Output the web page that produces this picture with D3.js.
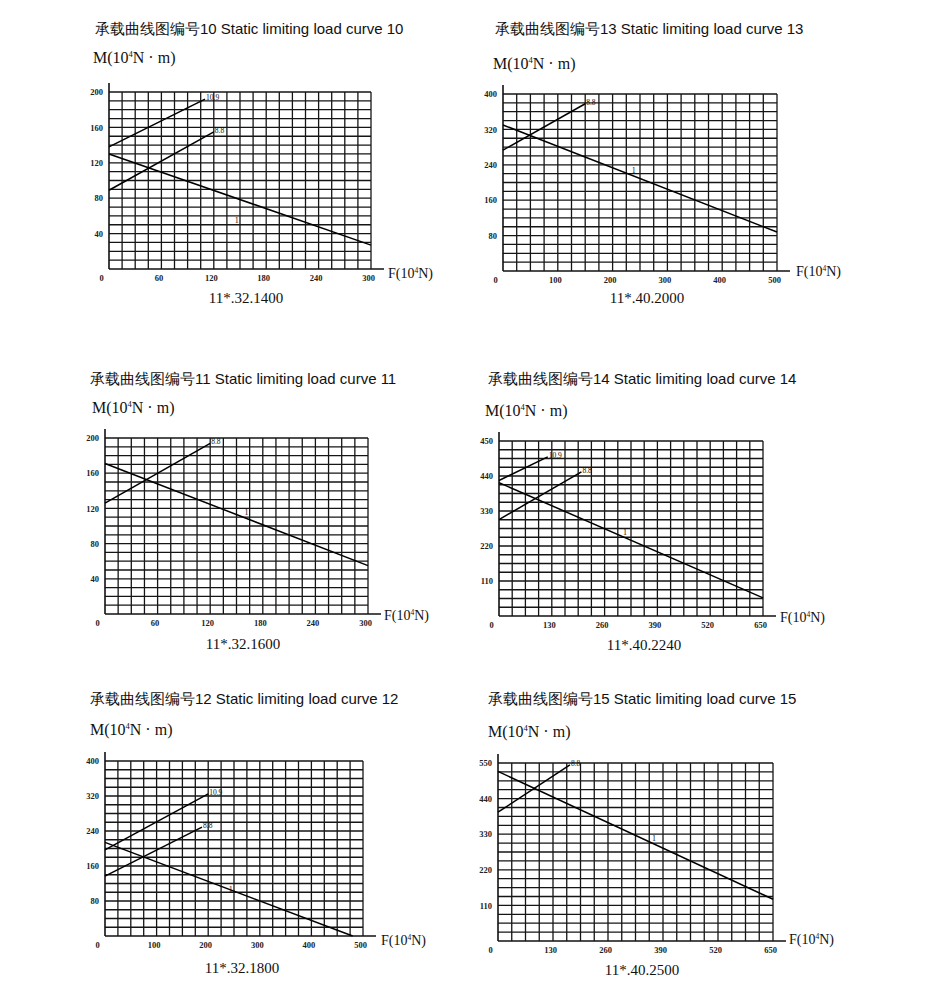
<!DOCTYPE html>
<html>
<head>
<meta charset="utf-8">
<script src="https://cdn.jsdelivr.net/npm/d3@7"></script>
<style>
  body { margin: 0; background: #fff; }
  .title { font-family: "Liberation Sans", Arial, sans-serif; font-size: 15px; fill: #111; }
  .serif { font-family: "Liberation Serif", "Times New Roman", serif; fill: #111; }
  .tick text { font-family: "Liberation Serif", serif; font-size: 8.5px; font-weight: bold; fill: #222; }
</style>
</head>
<body>
<svg id="chart" width="930" height="1000"></svg>
<script>
// panels in order: left column 10,11,12 then right column 13,14,15
const panelNumbers = [10, 11, 12, 13, 14, 15];
const panelCodes = ["11*.32.1400", "11*.32.1600", "11*.32.1800", "11*.40.2000", "11*.40.2240", "11*.40.2500"];
const xMaxes = [300, 300, 500, 500, 650, 650];
const yMaxes = [200, 200, 400, 400, 550, 550];

const xTicks300 = [0, 60, 120, 180, 240, 300];
const xTicks500 = [0, 100, 200, 300, 400, 500];
const xTicks650 = [0, 130, 260, 390, 520, 650];
const yTicks200 = [40, 80, 120, 160, 200];
const yTicks400 = [80, 160, 240, 320, 400];
const yTicks550 = [110, 220, 330, 440, 550];
const yTickText14 = ["110", "220", "330", "440", "450"]; // as printed

// lines: label, [F, M] start and end
const curves10 = [
  { label: "10.9", points: [[0, 138], [110, 192]] },
  { label: "8.8", points: [[0, 89], [120, 155]] },
  { label: "1", points: [[0, 130], [300, 27]] }
];
const curves11 = [
  { label: "8.8", points: [[0, 126], [120, 194]] },
  { label: "1", points: [[0, 171], [300, 55]] }
];
const curves12 = [
  { label: "10.9", points: [[0, 197], [200, 325]] },
  { label: "8.8", points: [[0, 137], [188, 249]] },
  { label: "1", points: [[0, 214], [480, 0]] }
];
const curves13 = [
  { label: "8.8", points: [[0, 273], [150, 378]] },
  { label: "1", points: [[0, 330], [500, 88]] }
];
const curves14 = [
  { label: "10.9", points: [[0, 426], [120, 500]] },
  { label: "8.8", points: [[0, 303], [203, 453]] },
  { label: "1", points: [[0, 419], [650, 57]] }
];
const curves15 = [
  { label: "8.8", points: [[0, 398], [170, 544]] },
  { label: "1", points: [[0, 524], [650, 129]] }
];

const xTicksAll = [xTicks300, xTicks300, xTicks500, xTicks500, xTicks650, xTicks650];
const yTicksAll = [yTicks200, yTicks200, yTicks400, yTicks400, yTicks550, yTicks550];
const yTextAll = [null, null, null, null, yTickText14, null];
const curvesAll = [curves10, curves11, curves12, curves13, curves14, curves15];

// page layout (pixels)
const layout = [
  { title: [95, 34], m: [93, 63], grid: [109, 371, 92, 269], f: [388, 278], code: [246, 303], one: [0.48, 22] },
  { title: [90, 384], m: [92, 413], grid: [105, 368, 438, 614], f: [384, 620], code: [243, 649], one: [0.53, -6] },
  { title: [90, 704], m: [90, 735], grid: [105, 363, 761, 936], f: [381, 945], code: [242, 973], one: [0.5, 0] },
  { title: [495, 34], m: [493, 69], grid: [503, 777, 94, 271], f: [796, 276], code: [647, 303], one: [0.47, -5] },
  { title: [488, 384], m: [485, 416], grid: [499, 763, 441, 616], f: [780, 622], code: [644, 650], one: [0.47, -5] },
  { title: [488, 704], m: [488, 737], grid: [498, 773, 763, 941], f: [789, 944], code: [642, 975], one: [0.56, -5] }
];

const svg = d3.select("#chart");
svg.append("rect").attr("width", 930).attr("height", 1000).attr("fill", "#fff");

panelNumbers.forEach((num, i) => {
  const L = layout[i];
  const [gx0, gx1, gy0, gy1] = L.grid;
  const x = d3.scaleLinear().domain([0, xMaxes[i]]).range([gx0, gx1]);
  const y = d3.scaleLinear().domain([0, yMaxes[i]]).range([gy1, gy0]);
  const g = svg.append("g");

  g.append("text").attr("class", "title")
    .attr("x", L.title[0]).attr("y", L.title[1])
    .text("承载曲线图编号" + num + " Static limiting load curve " + num);

  const mLab = g.append("text").attr("class", "serif").attr("font-size", 16)
    .attr("x", L.m[0]).attr("y", L.m[1]);
  mLab.append("tspan").text("M(10");
  mLab.append("tspan").attr("font-size", 8.5).attr("dy", -6).text("4");
  mLab.append("tspan").attr("dy", 6).text("N · m)");

  // grid 20 x 20
  const xStep = xMaxes[i] / 20, yStep = yMaxes[i] / 20;
  const grid = g.append("g").attr("stroke", "#151515").attr("stroke-width", 1.3);
  grid.selectAll(".v").data(d3.range(1, 21)).join("line")
    .attr("x1", d => x(d * xStep)).attr("x2", d => x(d * xStep))
    .attr("y1", y(0)).attr("y2", y(yMaxes[i]));
  grid.selectAll(".h").data(d3.range(1, 21)).join("line")
    .attr("x1", x(0)).attr("x2", x(xMaxes[i]))
    .attr("y1", d => y(d * yStep)).attr("y2", d => y(d * yStep));

  // axis lines, a bit longer than the grid
  g.append("line").attr("stroke", "#111").attr("stroke-width", 1.6)
    .attr("x1", x(0)).attr("x2", x(0)).attr("y1", y(0)).attr("y2", y(yMaxes[i]) - 9);
  g.append("line").attr("stroke", "#111").attr("stroke-width", 1.6)
    .attr("x1", x(0)).attr("x2", x(xMaxes[i]) + 13).attr("y1", y(0)).attr("y2", y(0));

  const xAxis = g.append("g").attr("transform", "translate(0," + y(0) + ")")
    .call(d3.axisBottom(x).tickValues(xTicksAll[i]).tickSize(0).tickPadding(6));
  xAxis.select(".domain").remove();
  xAxis.selectAll(".tick text").attr("dx", d => d === 0 ? -8 : -3);

  const yText = yTextAll[i];
  const yAxis = g.append("g").attr("transform", "translate(" + x(0) + ",0)")
    .call(d3.axisLeft(y).tickValues(yTicksAll[i]).tickSize(0).tickPadding(6)
      .tickFormat((d, k) => yText ? yText[k] : d));
  yAxis.select(".domain").remove();

  const fLab = g.append("text").attr("class", "serif").attr("font-size", 14)
    .attr("x", L.f[0]).attr("y", L.f[1]);
  fLab.append("tspan").text("F(10");
  fLab.append("tspan").attr("font-size", 7.5).attr("dy", -5).text("4");
  fLab.append("tspan").attr("dy", 5).text("N)");

  g.append("text").attr("class", "serif").attr("font-size", 15)
    .attr("text-anchor", "middle").attr("x", L.code[0]).attr("y", L.code[1])
    .text(panelCodes[i]);

  // load curves
  const line = d3.line().x(d => x(d[0])).y(d => y(d[1]));
  curvesAll[i].forEach(c => {
    g.append("path").attr("d", line(c.points))
      .attr("fill", "none").attr("stroke", "#000").attr("stroke-width", 1.5);
    const [p0, p1] = c.points;
    if (c.label === "1") {
      const t = L.one[0];
      const fx = p0[0] + (p1[0] - p0[0]) * t, my = p0[1] + (p1[1] - p0[1]) * t;
      g.append("text").attr("class", "serif").attr("font-size", 8)
        .attr("x", x(fx)).attr("y", y(my) + L.one[1] + 3).text("1");
    } else {
      g.append("text").attr("class", "serif").attr("font-size", 7.5)
        .attr("x", x(p1[0]) + 1).attr("y", y(p1[1]) + 1).text(c.label);
    }
  });
});
</script>
</body>
</html>
